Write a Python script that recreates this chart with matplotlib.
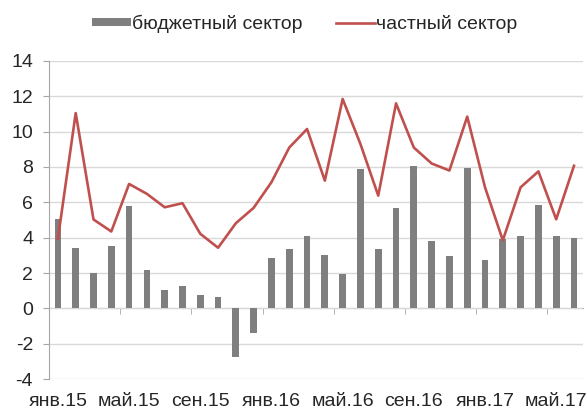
import numpy as np
import matplotlib.pyplot as plt
from matplotlib.ticker import MultipleLocator, FixedLocator

plt.rcParams['font.family'] = ['Liberation Sans', 'DejaVu Sans']
plt.rcParams['axes.unicode_minus'] = False

# monthly values, Jan 2015 .. Jun 2017
budget = [5.07, 3.43, 2.0, 3.52, 5.82, 2.18, 1.02, 1.24, 0.77, 0.64, -2.75, -1.37,
          2.84, 3.37, 4.07, 3.03, 1.96, 7.89, 3.37, 5.69, 8.04, 3.8, 2.94, 7.95,
          2.75, 3.94, 4.09, 5.86, 4.09, 3.99]
private = [3.94, 11.05, 5.03, 4.35, 7.04, 6.48, 5.72, 5.95, 4.22, 3.43, 4.82, 5.69,
           7.14, 9.1, 10.15, 7.23, 11.85, 9.3, 6.38, 11.6, 9.1, 8.2, 7.8, 10.85,
           6.85, 3.85, 6.85, 7.75, 5.04, 8.07]
tick_labels = ['янв.15', 'май.15', 'сен.15', 'янв.16', 'май.16', 'сен.16', 'янв.17', 'май.17']

x = np.arange(len(budget))
txt_col = '#262626'
fs = 14

fig = plt.figure(figsize=(5.87, 4.12), dpi=100)
ax = fig.add_axes([0.0835, 0.080, 0.9095, 0.772])

bars = ax.bar(x, budget, width=0.38, color='#7f7f7f', label='бюджетный сектор', zorder=2)
line, = ax.plot(x, private, color='#c0504d', lw=1.9, label='частный сектор', zorder=3)

ax.set_xlim(-0.5, len(budget) - 0.5)
ax.set_ylim(-4, 14)
ax.yaxis.set_major_locator(MultipleLocator(2))
ax.grid(axis='y', color='#d9d9d9', lw=1, zorder=0)

for s in ['top', 'right']:
    ax.spines[s].set_visible(False)
ax.spines['left'].set_color('#a6a6a6')
ax.spines['bottom'].set_color('#a6a6a6')
ax.spines['bottom'].set_position(('data', 0))
ax.spines['bottom'].set_zorder(1)

ax.tick_params(axis='y', colors='#a6a6a6', length=4.5, labelsize=fs, labelcolor=txt_col, pad=7)

# category axis line at zero with ticks between every fourth month
ax.set_xticks([])
ax.xaxis.set_minor_locator(FixedLocator(np.arange(3.5, len(budget), 4)))
ax.tick_params(axis='x', which='minor', direction='out', length=4, color='#a6a6a6')

# month labels along the bottom edge
sec = ax.secondary_xaxis('bottom')
sec.set_xticks(x[::4], tick_labels)
sec.tick_params(length=0, labelsize=fs, labelcolor=txt_col, pad=10)
sec.spines['bottom'].set_visible(False)

leg = fig.legend([bars, line], ['бюджетный сектор', 'частный сектор'],
                 loc='center', bbox_to_anchor=(0.519, 0.943), ncol=2, frameon=False,
                 fontsize=fs, handlelength=2.0, handleheight=0.26,
                 handletextpad=0.08, columnspacing=1.7)
for t in leg.get_texts():
    t.set_color(txt_col)

fig.savefig('out.png', dpi=100)
